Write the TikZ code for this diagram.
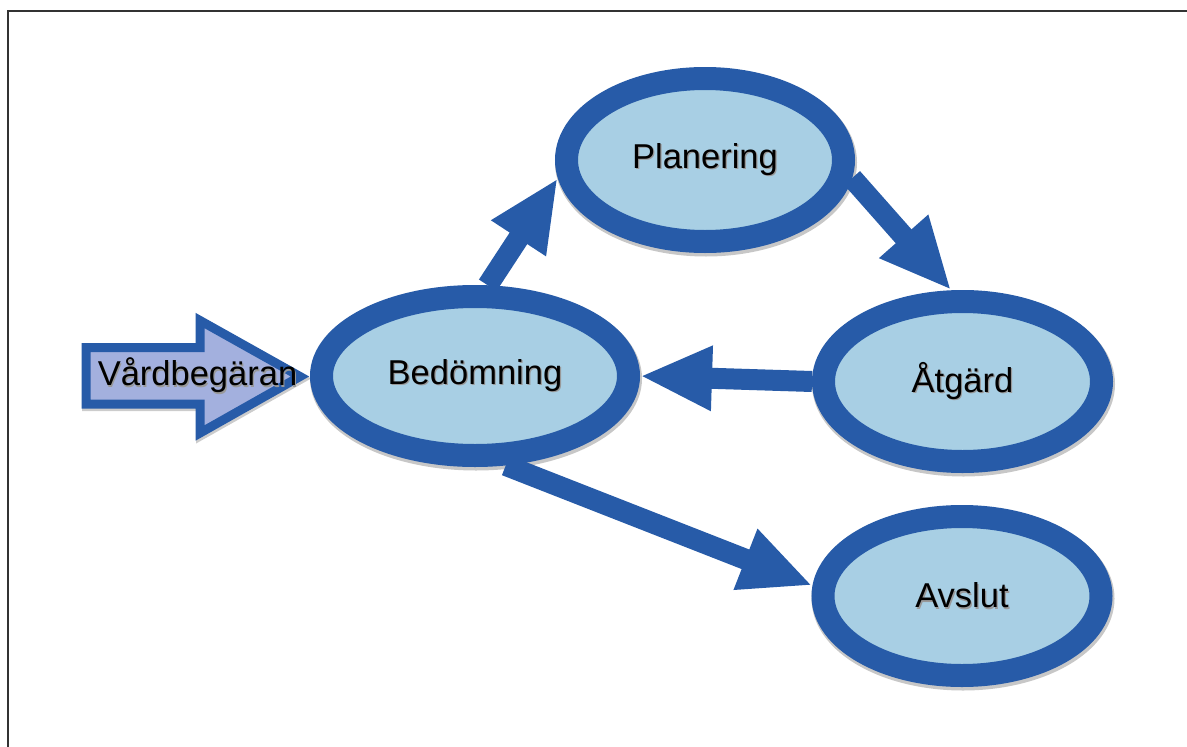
\documentclass[tikz,border=0pt]{standalone}
\usepackage{fontspec}
\setmainfont{Liberation Sans}
\usetikzlibrary{shapes.geometric,arrows.meta}
\definecolor{strokeblue}{RGB}{39,91,168}
\definecolor{fillblue}{RGB}{168,207,228}
\definecolor{lavender}{RGB}{163,176,222}
\newcommand\shtxt[1]{\rlap{\kern1.2pt\raisebox{-1.6pt}{\textcolor{black!40}{#1}}}#1}
\begin{document}
\begin{tikzpicture}[x=1pt,y=-1pt,
  stage/.style={ellipse, draw=strokeblue, fill=fillblue, line width=23pt,
    inner sep=0pt, outer sep=11.5pt, font=\fontsize{34.5}{40}\selectfont,
    preaction={draw=black, draw opacity=0.22, line width=25pt,
      transform canvas={xshift=1pt,yshift=-2.5pt}}},
  flow/.style={draw=strokeblue, line width=21pt,
    -{Triangle[length=72pt,width=60pt]}},
  lbl/.style={font=\fontsize{34.5}{40}\selectfont, inner sep=0pt}]
\useasboundingbox (0,0) rectangle (1187,747);
\fill[white] (0,0) rectangle (1187,747);
\draw[black!80, line width=2.5pt] (8,747) -- (8,11) -- (1187,11);

% input arrow
\draw[draw=black, draw opacity=0.2, line width=10pt, line join=miter,
  transform canvas={xshift=1pt,yshift=-2pt}]
  (86,347.5) -- (200,347.5) -- (200,320.5) -- (300,376.5) -- (200,433) -- (200,404) -- (86,404) -- cycle;
\draw[draw=strokeblue, fill=lavender, line width=9pt, line join=miter]
  (86,347.5) -- (200,347.5) -- (200,320.5) -- (300,376.5) -- (200,433) -- (200,404) -- (86,404) -- cycle;
\node[lbl] (vard) at (197.5,376) {\shtxt{Vårdbegäran}};

% stages
\node[stage, minimum width=277pt, minimum height=163pt] (pla) at (705,160) {\shtxt{Planering}};
\node[stage, minimum width=307pt, minimum height=159pt] (bed) at (475,376) {\shtxt{Bedömning}};
\node[stage, minimum width=278pt, minimum height=160pt] (atg) at (962.5,381.5) {\shtxt{Åtgärd}};
\node[stage, minimum width=278pt, minimum height=159pt] (avs) at (962,596) {\shtxt{Avslut}};

% connectors
\draw[flow] (bed.82) -- (pla.187);
\draw[flow] (pla.-7.5) -- (atg.97.5);
\draw[flow] (atg.180) -- (bed.0);
\draw[flow] (bed.-71.5) -- (avs.176);
\end{tikzpicture}
\end{document}
